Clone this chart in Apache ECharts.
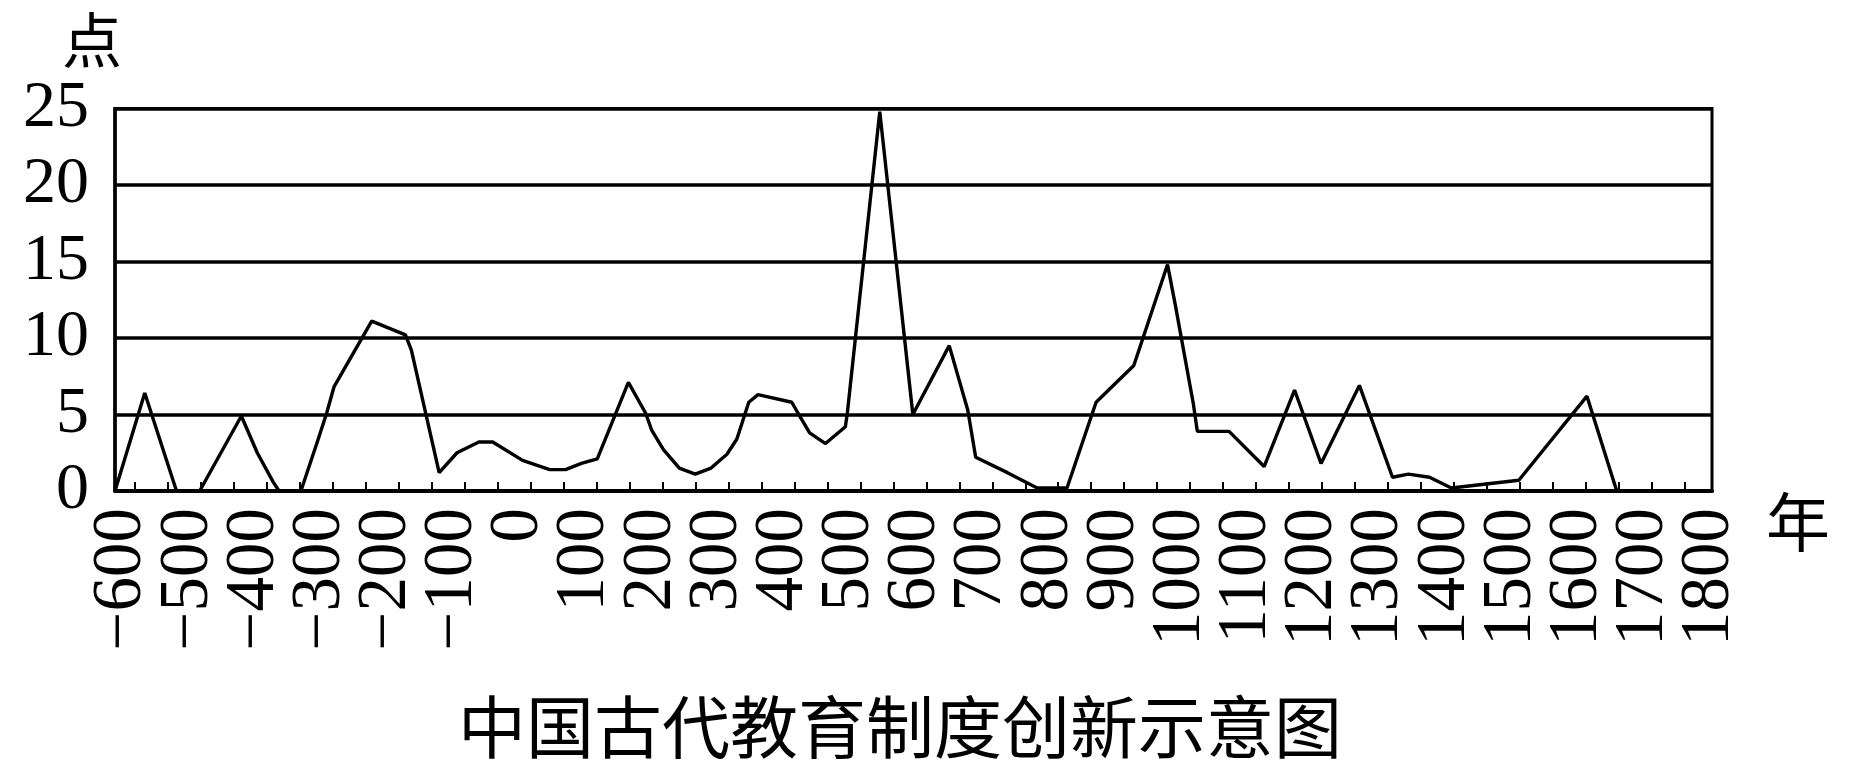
<!DOCTYPE html>
<html><head><meta charset="utf-8">
<script src="https://cdn.jsdelivr.net/npm/echarts@6/dist/echarts.min.js"></script>
<style>html,body{margin:0;padding:0;background:#fff}#c{width:1867px;height:783px}</style>
</head><body><div id="c"></div>
<script>
const years = [-611,-566,-545,-518,-483,-420,-396,-372,-363,-330,-306,-291,-280,-223,-172,-163,-121,-94,-61,-40,5,46,70,94,118,165,191,200,218,242,266,290,314,329,347,361,412,424,439,463,493,496,545,595,650,678,690,738,783,828,872,929,980,992,1019,1025,1073,1126,1172,1212,1270,1320,1344,1376,1409,1511,1614,1659];
const counts = [0,6.4,3.6,0,0,4.9,2.5,0.6,0,0,3.1,5.1,6.8,11.1,10.2,9.2,1.2,2.5,3.2,3.2,2.0,1.4,1.4,1.8,2.1,7.1,5.1,4.0,2.7,1.5,1.1,1.5,2.4,3.4,5.8,6.3,5.8,4.9,3.8,3.1,4.2,5.1,24.8,5.0,9.5,5.3,2.2,1.2,0.2,0.2,5.8,8.2,14.8,12.1,5.7,3.9,3.9,1.6,6.6,1.8,6.9,0.9,1.1,0.9,0.2,0.7,6.2,0];
const xLabelsEven = [-600,-400,-200,0,200,400,600,800,1000,1200,1400,1600,1800];
const xLabelsOdd = [-500,-300,-100,100,300,500,700,900,1100,1300,1500,1700];
const xTickValues = [];
for (let k = 0; k < 48; k++) xTickValues.push(-581 + 49.85 * k);
const yTicks = [0,5,10,15,20,25];
const titleText = '中国古代教育制度创新示意图';
const yName = '点';
const xName = '年';

const chart = echarts.init(document.getElementById('c'));
const serif = '"Liberation Serif", "DejaVu Serif", serif';
const cjk = '"Noto Sans CJK SC", sans-serif';
const xMin = -611, xMax = 1803;
function labelAxis(values, withLine) {
  return {
    type: 'value', min: xMin, max: xMax, position: 'bottom', gridIndex: 0,
    axisLine: { show: withLine, onZero: false, lineStyle: { color: '#000', width: 4 } },
    axisTick: { show: withLine, customValues: xTickValues, inside: true, length: 9, lineStyle: { color: '#000', width: 2 } },
    axisLabel: {
      customValues: values, rotate: 90, margin: 17, color: '#000',
      fontFamily: serif, fontSize: 69, showMinLabel: true, showMaxLabel: true,
      formatter: v => (v < 0 ? '\u2212' + Math.abs(v) : String(v))
    },
    splitLine: { show: false }
  };
}
chart.setOption({
  animation: false,
  backgroundColor: '#fff',
  graphic: [
    { type: 'text', left: 458, top: 693, style: { text: titleText, font: '68px ' + cjk, fill: '#000' } },
    { type: 'text', left: 62, top: 10, style: { text: yName, font: '60px ' + cjk, fill: '#000' } },
    { type: 'text', left: 1766, top: 490, style: { text: xName, font: '64px ' + cjk, fill: '#000' } }
  ],
  grid: { left: 115, right: 155, top: 108.5, bottom: 292, show: true, borderColor: '#000', borderWidth: 3 },
  xAxis: [labelAxis(xLabelsEven, true), labelAxis(xLabelsOdd, false)],
  yAxis: {
    type: 'value', min: yTicks[0], max: yTicks[yTicks.length - 1], interval: 5,
    axisLine: { show: true, onZero: false, lineStyle: { color: '#000', width: 3.5 } },
    axisTick: { show: false },
    axisLabel: { margin: 26, color: '#000', fontFamily: serif, fontSize: 66 },
    splitLine: { show: true, lineStyle: { color: '#000', width: 3.5 } }
  },
  series: [{
    type: 'line', xAxisIndex: 0, data: years.map((y, i) => [y, counts[i]]),
    showSymbol: false, lineStyle: { color: '#000', width: 3.4 }, itemStyle: { color: '#000' }
  }]
});
</script></body></html>
